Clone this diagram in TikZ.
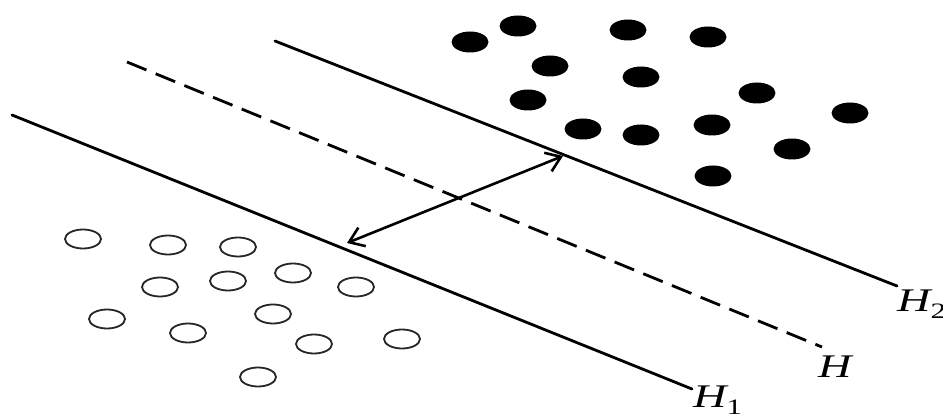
\documentclass[tikz,border=0pt]{standalone}
\usepackage{graphicx}
\usepackage{fontspec}
\setmainfont{Liberation Serif}
\usetikzlibrary{shapes.geometric,arrows.meta}
\newcommand{\hlab}[1]{\scalebox{1.4}[1]{\itshape H\raisebox{-7pt}{\fontsize{22}{24}\selectfont\upshape #1}}}
\begin{document}
\begin{tikzpicture}[x=1pt,y=-1pt,
  fdot/.style={ellipse,fill=black,draw=none,minimum width=37pt,minimum height=21pt,inner sep=0pt},
  odot/.style={ellipse,draw=black!85,line width=1.8pt,minimum width=36pt,minimum height=19pt,inner sep=0pt},
  hline/.style={line width=2.8pt,line cap=round},
  lab/.style={inner sep=0pt,anchor=base west,font=\fontsize{33}{38}\selectfont}]
\useasboundingbox (0,0) rectangle (943,414);
% hyperplanes
\coordinate (h1a) at (12,115);
\coordinate (h1b) at (692,389);
\coordinate (ha) at (127,62);
\coordinate (hb) at (822,347);
\coordinate (h2a) at (275,41);
\coordinate (h2b) at (897,286);
\draw[hline] (h1a) -- (h1b);
\draw[hline,line cap=butt,dash pattern=on 21pt off 10pt] (ha) -- (hb);
\draw[hline] (h2a) -- (h2b);
\node[lab] (l1) at (693,407) {\hlab{1}};
\node[lab] (l0) at (818,377) {\hlab{}};
\node[lab] (l2) at (897,312) {\hlab{2}};
% margin arrow
\coordinate (ma) at (347,243);
\coordinate (mb) at (563,156);
\draw[line width=2.6pt,{Straight Barb[length=14pt,width=20pt]}-{Straight Barb[length=14pt,width=20pt]}] (ma) -- (mb);
% filled points
\node[fdot] (f1) at (470,42) {};
\node[fdot] (f2) at (518,26) {};
\node[fdot] (f3) at (628,30) {};
\node[fdot] (f4) at (708,37) {};
\node[fdot] (f5) at (550,66) {};
\node[fdot] (f6) at (641,77) {};
\node[fdot] (f7) at (528,100) {};
\node[fdot] (f8) at (757,93) {};
\node[fdot] (f9) at (850,113) {};
\node[fdot] (f10) at (583,129) {};
\node[fdot] (f11) at (641,135) {};
\node[fdot] (f12) at (712,125) {};
\node[fdot] (f13) at (792,149) {};
\node[fdot] (f14) at (713,176) {};
% open points
\node[odot] (o1) at (83,239) {};
\node[odot] (o2) at (168,245) {};
\node[odot] (o3) at (238,247) {};
\node[odot] (o4) at (160,287) {};
\node[odot] (o5) at (228,281) {};
\node[odot] (o6) at (293,273) {};
\node[odot] (o7) at (356,287) {};
\node[odot] (o8) at (107,319) {};
\node[odot] (o9) at (188,333) {};
\node[odot] (o10) at (273,314) {};
\node[odot] (o11) at (314,344) {};
\node[odot] (o12) at (402,339) {};
\node[odot] (o13) at (258,377) {};
\end{tikzpicture}
\end{document}
